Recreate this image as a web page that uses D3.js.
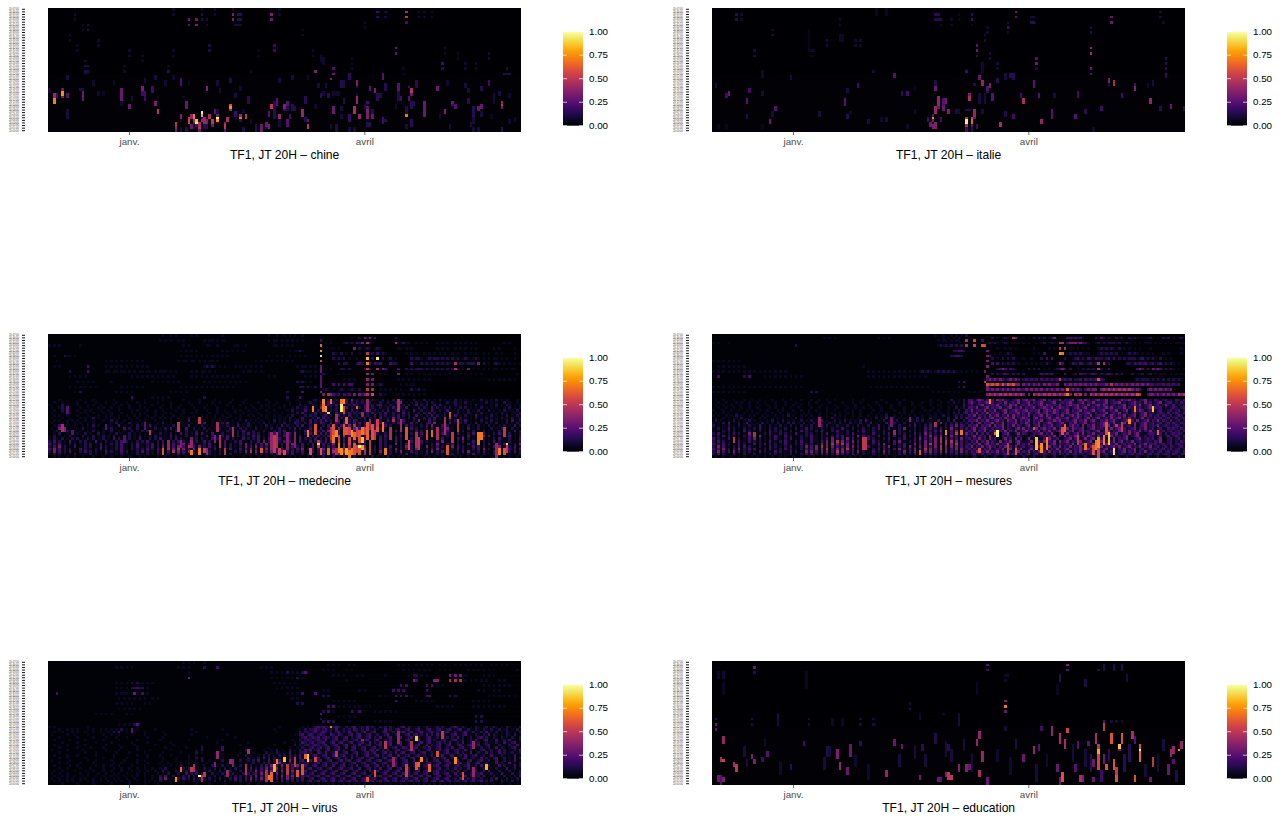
<!DOCTYPE html>
<html><head><meta charset="utf-8">
<script src="https://cdn.jsdelivr.net/npm/d3@7"></script>
<style>html,body{margin:0;padding:0;background:#fff}svg{display:block;font-family:"Liberation Sans",Arial,sans-serif}</style>
</head><body><svg id="c" width="1286" height="818"></svg>
<script>
// Values.
// Streak = [day, fromRow, toRow, percent]: individually read marks. Block = [fromDay, toDay, fromRow, toRow, percent].
// Row strings: one intensity level per day, grouped by ten days, from the first row down. They approximate the
// local density and brightness of the dense panels; they are not an exact cell-by-cell reading of the source.
const topics = ["chine","italie","medecine","mesures","virus","education"];
const channel = "TF1, JT 20H";
const dayCount = 183, rowCount = 48;
const monthTickDays = [31,122], monthTickLabels = ["janv.","avril"];
const legendTicks = [0,0.25,0.5,0.75,1];
const levelValues = [0.015,0.06,0.13,0.21,0.32,0.45,0.58,0.7,0.82,0.95];
const rowLabels = d3.range(rowCount).map(i=>"20:"+String(rowCount-1-i).padStart(2,"0")+":00");

const chineBlocks = [[0,182,26,47,1]];
const chineStreaks = [[10,2,2,8],[10,4,4,8],[48,0,0,8],[48,2,2,8],[59,0,0,8],[59,2,2,12],[59,4,4,12],[54,4,4,30],[54,6,6,25],[57,4,4,30],[57,6,6,35],[61,4,4,10],[61,6,6,8],[64,0,0,8],[64,2,2,8],[71,0,0,10],[71,2,2,35],[71,4,4,35],[73,2,2,14],[74,2,2,14],[73,4,4,14],[74,4,4,14],[72,6,6,10],[73,6,6,10],[74,6,6,10],[86,2,2,35],[86,4,4,30],[89,0,0,8],[89,2,2,8],[127,1,1,20],[127,3,3,15],[130,1,1,10],[130,3,3,10],[138,1,1,45],[138,3,3,50],[138,5,5,20],[143,1,1,8],[143,3,3,8],[145,1,1,8],[145,3,3,8],[148,1,1,8],[148,3,3,8],[122,5,5,8],[122,7,7,8],[98,8,8,6],[98,10,10,6],[13,6,6,8],[13,8,8,8],[15,6,6,12],[15,8,8,12],[8,10,10,8],[8,12,12,8],[19,12,12,8],[19,14,14,8],[11,14,14,6],[11,16,16,6],[62,14,14,12],[62,16,16,12],[87,14,14,18],[87,16,16,18],[81,16,16,6],[81,18,18,6],[31,16,16,8],[31,18,18,8],[36,18,18,8],[36,20,20,8],[48,16,16,8],[48,18,18,8],[14,20,20,8],[14,22,22,12],[15,22,22,12],[14,24,24,12],[15,24,24,12],[14,25,25,8],[29,22,22,8],[29,24,24,8],[46,22,22,8],[46,24,24,14],[78,24,24,8],[103,24,24,35],[102,16,16,8],[102,18,18,8],[105,18,20,8],[106,19,21,8],[110,23,23,25],[110,25,25,30],[109,27,27,35],[117,19,19,6],[117,21,21,6],[117,23,23,6],[134,15,15,30],[134,17,17,25],[153,15,15,8],[153,17,17,8],[158,17,17,6],[158,19,19,6],[152,21,21,20],[152,23,23,14],[170,17,17,10],[170,19,19,10],[161,21,21,8],[161,23,23,8],[165,21,21,8],[165,23,23,8],[177,23,23,12],[176,25,25,12],[177,25,25,12],[178,25,25,12],[129,25,27,25],[137,23,23,6],[137,25,25,6],
[7,26,27,10],[17,28,29,8],[25,28,29,6],[0,31,32,10],[2,33,34,40],[2,35,36,72],[3,33,34,20],[5,31,31,30],[5,32,33,75],[5,34,34,30],[7,33,34,25],[12,31,31,12],[13,31,31,12],[13,32,35,30],[19,32,33,8],[21,32,33,6],[28,31,35,30],[28,36,37,8],[32,34,35,10],[31,37,38,30],[37,27,28,10],[36,30,31,35],[36,32,33,20],[37,32,33,20],[37,34,35,20],[40,30,32,20],[41,26,27,10],[41,36,37,35],[42,34,34,8],[42,39,40,50],[45,28,29,8],[48,26,27,8],[51,27,29,22],[54,28,29,6],[52,34,34,8],[53,36,38,30],[61,30,31,35],[65,28,29,10],[66,31,32,10],[70,27,28,12],[74,30,31,8],[72,33,34,10],[77,34,36,14],[89,27,28,10],[94,26,27,10],[100,26,27,8],[7,39,42,10],[104,29,30,10],[107,29,30,10],[106,32,33,10],[113,28,30,12],[114,28,30,12],[116,25,27,15],[119,28,29,35],[119,30,30,12],[124,30,31,25],[126,31,32,35],[128,33,34,12],[130,29,31,14],[135,29,31,25],[135,32,35,12],[136,34,35,20],[139,30,30,20],[139,34,35,25],[140,31,31,45],[140,32,32,50],[140,33,33,30],[142,28,30,14],[150,30,31,30],[154,28,29,8],[161,29,30,10],[162,31,32,10],[167,30,31,14],[170,28,29,20],[172,33,36,10],[174,32,33,10],[178,33,34,8],[105,33,34,14],[108,33,34,14],[110,32,33,8],[111,32,33,8],[112,32,33,8],[114,35,36,12],[119,34,36,40],[119,33,33,10],[123,36,36,20],[123,38,38,25],[122,37,38,12],[127,33,35,14],[145,36,41,30],[140,36,38,14],[141,36,37,14],[138,38,40,12],[138,41,41,70],[134,37,38,8],[118,38,40,45],[110,38,40,30],[113,38,39,10],[113,41,42,10],[116,41,43,18],[120,41,42,40],[125,39,40,14],[125,41,42,30],[123,39,42,35],[129,42,44,20],[130,43,43,14],[140,43,45,14],[138,45,46,10],[153,39,40,35],[156,36,36,30],[156,37,37,20],[157,37,38,25],[162,35,36,14],[164,38,41,14],[164,42,44,10],[166,38,39,30],[167,37,38,30],[167,40,41,10],[175,36,36,40],[175,37,37,50],[175,38,38,30],[171,41,42,6],[178,43,44,8],[180,42,43,8],[175,46,47,14],[151,41,42,8],[155,45,46,10],[163,44,45,10],[166,46,47,10],[164,46,47,10],[109,45,46,10],[111,45,47,12],[116,46,47,10],[118,46,47,10],[123,44,45,14],[124,44,45,14],
[49,44,44,50],[49,45,45,45],[49,46,46,40],[49,47,47,30],[51,41,42,35],[51,43,43,10],[51,46,47,10],[53,46,47,14],[54,42,42,50],[54,43,44,55],[55,41,42,40],[55,45,46,30],[56,41,42,70],[56,43,43,45],[56,44,44,30],[56,46,46,14],[57,43,43,85],[57,44,44,95],[57,45,45,20],[58,44,45,45],[58,46,46,50],[58,47,47,30],[59,40,40,95],[59,41,41,80],[59,42,42,20],[59,43,43,40],[60,42,44,40],[60,45,46,14],[61,43,44,35],[61,45,46,14],[62,41,42,45],[63,43,44,50],[63,45,45,30],[64,39,40,25],[65,39,40,10],[65,41,41,30],[65,42,42,97],[65,43,43,75],[65,44,44,10],[68,44,44,40],[68,45,46,50],[68,47,47,25],[69,42,43,45],[70,37,37,60],[70,38,38,75],[70,39,39,40],[72,40,41,20],[74,41,41,40],[74,42,42,70],[74,43,43,15],[75,39,40,8],[76,41,42,50],[78,43,44,8],[75,46,47,12],[80,45,47,14],[82,45,47,30],[84,44,45,30],[84,46,46,14],[85,45,46,35],[85,40,41,25],[86,37,38,50],[87,36,42,14],[88,35,37,25],[89,41,42,40],[89,43,45,10],[91,37,38,35],[91,39,39,20],[92,36,37,25],[92,38,39,14],[92,43,45,25],[93,41,42,20],[94,37,39,14],[95,38,39,14],[98,39,41,40],[99,34,36,14],[99,42,43,14],[100,43,43,25],[100,45,46,50],[103,37,38,8]];

const italieBlocks = [[0,182,26,47,1]];
const italieStreaks = [[9,2,2,14],[9,4,4,14],[11,2,2,8],[11,4,4,8],[63,0,2,6],[67,0,2,6],[49,4,4,8],[49,6,6,8],[86,2,2,14],[87,2,2,14],[86,4,4,14],[87,4,4,14],[88,4,4,14],[88,6,6,8],[92,4,4,8],[92,6,6,8],[95,2,2,6],[95,4,4,6],[100,2,2,14],[100,4,4,20],[100,6,6,6],[117,1,1,30],[117,3,3,25],[123,3,3,10],[124,3,3,10],[123,5,5,14],[124,5,5,14],[154,3,3,30],[154,5,5,30],[173,1,1,10],[173,3,3,10],[174,5,5,8],[114,5,5,8],[114,7,7,20],[114,9,9,8],[106,7,7,8],[106,9,9,8],[146,7,7,10],[146,9,9,12],[23,8,8,8],[23,10,10,10],[37,8,16,5],[44,12,12,10],[44,14,14,10],[49,10,12,7],[50,10,12,7],[55,12,12,8],[55,14,14,8],[57,12,12,8],[57,14,14,8],[105,10,10,10],[105,12,12,10],[102,14,14,25],[102,16,16,30],[102,18,18,14],[16,16,16,10],[16,18,18,10],[38,16,16,8],[39,16,16,8],[38,18,18,6],[107,17,17,10],[107,19,19,10],[125,19,19,25],[125,21,21,30],[125,23,23,10],[146,15,15,40],[146,17,17,45],[146,23,23,30],[146,25,25,25],[175,19,19,14],[175,21,21,14],[175,23,23,14],[175,25,25,20],[175,26,26,14],[98,24,24,20],[104,21,24,8],[110,21,21,10],[110,23,23,8],[62,24,24,10],[70,25,26,25],[103,26,27,30],[104,28,29,40],[101,29,29,14],[107,29,30,35],[110,27,28,14],[116,26,27,12],[30,26,27,10],[1,29,30,10],[19,24,26,8],[124,28,30,25],[153,27,28,35],[153,29,29,12],[155,28,29,45],[163,29,29,20],[163,30,31,35],[170,28,29,10],[168,29,30,8],[86,28,29,12],[86,30,31,30],[106,30,31,25],[106,32,32,14],[14,31,32,20],[6,32,33,30],[5,33,34,20],[19,32,33,10],[73,32,33,15],[75,32,33,20],[56,29,30,20],[52,31,32,10],[13,35,36,25],[24,38,39,25],[51,35,37,25],[87,34,37,40],[87,38,38,30],[86,38,40,40],[89,35,37,25],[90,35,36,30],[89,38,39,30],[91,39,40,35],[85,42,42,75],[85,41,41,25],[85,43,43,30],[84,44,45,30],[86,44,46,35],[85,45,46,35],[83,42,43,20],[88,42,43,20],[99,33,33,35],[99,34,35,45],[101,39,41,40],[101,42,42,30],[98,42,42,45],[98,43,44,96],[98,45,45,45],[100,42,42,50],[100,43,44,65],[100,45,45,25],[102,45,46,20],[98,46,47,20],[100,46,47,14],[95,39,40,10],[94,39,40,10],[98,39,39,14],[99,39,39,14],[108,33,35,25],[103,33,36,10],[105,33,36,10],[119,33,34,20],[120,35,36,45],[126,33,34,25],[132,33,34,10],[141,32,34,20],[158,33,34,20],[169,35,36,40],[177,37,38,30],[173,38,39,14],[182,38,39,14],[150,38,39,20],[144,39,40,14],[131,39,42,25],[140,41,42,25],[127,43,44,40],[116,41,42,20],[113,40,41,12],[104,39,40,10],[78,39,40,8],[52,41,42,14],[53,40,40,8],[13,41,42,12],[41,40,41,10],[23,40,41,10],[22,43,44,30],[60,43,44,10],[67,42,43,10],[65,42,43,8],[111,44,45,45],[75,45,46,8],[2,45,46,6],[5,45,46,6],[19,45,46,6],[147,46,47,8],[78,30,31,6],[113,25,27,10],[115,25,26,14],[116,25,26,14]];

const medecineRows = [
"0000000000 0000000000 0000000000 0000000000 0000100101 0000010100 0000000100 0000000000 0000010010 0101010010",
"0000000000 0000000000 0000000000 0000000000 0000000000 0000000000 0000000000 0000000000 0000000000 0000000000 0000000000 0000000100 2042403000 0000200000",
"0000000000 0000000000 0000000000 0000000000 0001010100 1010000000 1011010110 0000000000 0000010110 1010101010 0000020000",
"0000000000 0000000000 0000000000 0000000000 0000000000 0000000000 0000000000 0000000000 0000000000 0000000000 0000000101 0000121203 2403210000 0000511211 0010101000 1010100101 0101010000 0000001010 000",
"1010100000 0010000000 0000000000 0000000000 0000000000 0010100000 0110010000 0011001000 0000000110 1010100000 0000060000",
"0000000000 0000000000 0000000000 0000000000 0000000000 0000000000 0000000000 0000000000 0000000000 0000000000 0000000000 1010000040 2012101210 0000011010 1000000000 1010100101 0101010000 0010100000 100",
"0000000000 0000000000 0000000000 0000000000 0000000000 0101010100 0000000101 0101010000 0000000000 0001011210 0000080000",
"0000000000 0000000000 0000000000 0000000000 0000000000 0000000000 0000000000 0000000000 0000000000 0000000000 0000000000 2102010200 1012120302 1000000010 1010010101 0101001010 0101010010 1001010000 100",
"0010002110 1000000000 0000000000 0000000000 0000000000 0101010101 0101010101 0000000000 0000010010 1001010101 0000090000",
"0000000000 0000000000 0000000000 0000000000 0000000000 0000000000 0000000000 0000000000 0000000000 0000000000 0000000000 2121201001 0010020902 0120100000 2122101212 2121202120 1210121010 1011010100 100",
"0001000000 0000000000 0010101010 1010101000 0000000000 1011011010 1011010000 0000000000 1010101010 1010100000 0000060000",
"0000000000 0000000000 0000000000 0000000000 0000000000 0000000000 0000000000 0000000000 0000000000 0000000000 0000000000 0020220002 3201303230 0032200000 3010212120 2121211202 2122204020 1012101010 101",
"0010100000 0000030000 0010101010 1010101010 0000000000 0000000000 1212101010 0010101010 1010000000 0000001011 0101000000",
"0000000000 0000000000 0000000000 0000000000 0000000000 0000000000 0000000000 0000000000 0000000000 0000000000 0000000101 0002202000 0020200504 3000030021 2122212121 2120212120 1040101010 1011010101 100",
"0000000020 0000030000 0011011011 0101011011 0101110101 0000010101 1010100000 0000010110 1010000000 0000000121 1101000000",
"0000000000 0000000000 0000000000 0000000000 0000000000 0000000000 0000000000 0000000000 0000000000 0000000000 0000012100 0010101000 0000040010 1000040010 1001010101 0101010101 0101010100 0000000000 010",
"0000000010 1010100000 0000000000 0010101010 1010101010 0000010101 0101010101 0101000000 0000010100 0000000001 0101000000",
"0000000000 0000000000 0000000000 0000000000 0000000000 0000000000 0000000000 0000000000 0000000000 0000000000 0000000000 0000101010 0000040000 0000010101 0101010100 0000000000 0000000000 1010101010 100",
"0000000000 0101010100 0000100000 0000000000 1010101010 1000000000 1010101010 1010101000 0000000000 0000002121 0100000000",
"0000000000 0000000000 0000000000 0000000000 0000000000 0000000000 0000000000 0000000000 0000000000 0000000000 0000000000 3030303300 0000040121 0000001010 1100000000",
"0000000010 1010101010 0000000010 1010101000 0000000000 0101010101 0101010101 0100000000 0000000000 0000000221 2102000000",
"0000000000 0000000000 0000000000 0000000000 0000000000 0000000000 0000000000 0000000000 0000000000 0000000000 0000001210 1012101210 2000050010 1010101000 2012010000",
"0000000000 1020000000 0000001010 1010000000 0000000101 0101000000 0000000000 0000000000 0000000000 0020000030",
"0000000000 0000000000 0000000000 0000000000 0000000000 0000000000 0000000000 0000000000 0000000000 0000000000 0000004054 3231323040 4345260020 1000010101 0101010000",
"0000000000 0000000000 0000000000 0030000000 1010101000 0000000000 2000000000 0000000000 0000000000 0020000300 0000000000",
"0000100000 0010000100 0000010000 0010000100 0000100000 0010000010 0000100000 0100001000 0000100000 0010001000 0012010020 1213231412 1211021102 0102012101 0201020101 0201010201 0100100201 0102010100 010",
"0010010000 0100100010 0010001000 1000100100 0010000100 0000100010 0001001000 1000010000 0100010010 0001000100 1201020134 2112131302 1201201021 0201204010 1020102021 0100201201 0201000102 0101002010 010",
"1000020100 0100010100 1000010010 0100010000 1000100100 0100010000 0100100001 0000100010 0010100100 0101000201 0021034232 1312012132 1120120230 1021030202 0130202012 0301010201 0101020100 0102010210 101",
"0100120010 0010010001 0100100100 0100010100 0001000100 1000001000 1000010000 0100001001 0010010001 0100102012 1031043312 0212031201 2031021020 1203012030 0102021030 2012020102 0201010201 0101001020 101",
"0010020100 0100101000 1001000100 0010100010 0100100001 0010000100 0100010010 0010100100 1000100100 0010201013 0120213102 1201210312 0120302102 0301201201 0301201031 0201301020 1020102010 2010102011 020",
"0100010010 0010100100 0100100010 0010010100 0100010100 0010010100 0010010001 0010010010 0100010010 1000102031 1103021231 0312013021 2012030120 3012010302 0102021302 0102031020 1021010201 0101020101 102",
"0010100100 0100010001 0010100100 1001010010 0100100010 0100001001 0100100100 1000100101 0010100101 0010200102 0212012302 0230213012 0302103021 2012030202 0130102030 2012020301 0201030101 0201010201 021",
"0100010010 0010100201 0010010100 0100100100 1001010100 1000200010 0100101001 0010100010 0100100101 0102010130 1021303120 1302031210 2130212030 1204030102 0301020203 0102050102 0101020102 0101020102 012",
"0010100101 0100100100 0100201001 0010010100 0100100100 0100300100 1001001010 0100102010 1010010201 0102012021 0302130312 0230212032 0120302020 1305020301 0204010302 0103020201 0301010201 0201010203 012",
"0100010100 1010010100 1000102010 0200101001 0010200100 3001010010 3001010203 0102010201 0102010101 0201032102 1302032103 0320302130 3020102030 2102030210 3020102304 0102030102 0201030102 0102010201 021",
"0010310100 1001010201 0020100301 0010201003 0100101020 2010300102 0101020102 0103010210 1010201010 3020102030 1203012030 1203024050 2030203010 3020102030 2010203040 1030201020 1020102010 2010102010 302",
"0100420010 0102010100 0100201003 0200200100 0201020301 0103002010 2010102010 2010202010 2010102012 0102030201 1302030120 3040203041 3020102020 1030102010 3020102030 1020401020 1030102010 0201020102 010",
"0012010200 1010010201 0100200101 0020102020 1001010102 0102010201 0201030102 0102030102 0102010202 0301020103 1203213041 2030302030 2103020301 1020301020 1030201040 1020301010 2010201020 1010202010 302",
"0010200102 0100201002 0100102010 0201010102 0102010201 0302010303 0103010201 0102020302 0201020302 0203050102 1302031303 2030203040 3021030201 2030102030 2010301020 1030201030 1020301030 1020301020 102",
"1020101020 1002010201 0201020102 0201020102 0201010302 0102010201 0302010203 0102020103 0301020301 0302010201 2031302031 3030503040 3020301020 3010203020 1030201030 2010203010 2030102040 3010102030 102",
"1021020102 0201020201 0201030201 0201030102 0203010203 0201040202 0103020103 0201030202 0302030203 0102030302 1203020301 3040302041 3030102030 2010302010 2030102010 2030102030 4020102020 1020301020 103",
"2030201030 1020201030 1020102030 2010202030 1020301020 3021030201 3020102030 1020301021 0304020302 0303020301 0302031304 2040304030 2030201030 2010302010 3020302010 2040103020 3010302020 1030201020 102",
"3020301020 2010202010 3010202030 1020301020 3020304030 2040302010 2030102030 2010304020 3030402030 2030401030 2030203020 4030405040 3020301030 2010402030 1030201020 4010203020 1030201020 3010203010 204",
"2030402010 3010202010 3020102030 1020301020 3020404030 4030503040 2030201030 2010204030 4030303040 2040302030 1030402030 3040405030 3040202030 2030102040 2030104020 3020104030 2010303020 1030401020 302",
"3040302020 1030201020 3020102030 1020202030 2030405040 5040304030 2010302020 3010303040 3040403030 3040203040 2030304050 4050405040 3020302030 1020402030 2040102030 4010302030 2010203040 2010304030 203",
"2040302030 1020302020 1030201030 2010203020 1030403050 4030402040 3020102030 1020204050 4030304020 4030302030 1030203040 5040504030 4030102040 3020304010 3020103040 2030401020 3040102030 1020405020 302",
"1020201010 2010102010 1020101020 1010201020 1020302010 3020102010 1020102010 2010102020 3020102030 1020301020 2010203040 3040302030 2010201020 1020102030 1020102010 2010102020 1020301020 1020102010 102",
"0010100100 1001000100 0100100010 0100010100 0010010100 1001000100 0100100010 0100010010 0100100100 1001010100 1020102010 2010201020 0101020101 0201010100 1010010101 0010100101 0010010100 0101001010 010"
];
const medecineStreaks = [[157,11,11,45],[157,13,13,45],[123,3,3,45],[123,7,7,50],[123,9,9,85],[123,11,11,70],[123,13,13,50],[123,15,15,40],[123,17,17,40],[123,19,19,35],[123,21,21,50],[123,23,23,45],[105,2,2,20],[105,4,4,65],[105,6,6,75],[105,8,8,92],[105,10,10,55],[105,12,14,30],[105,16,20,25],[105,22,22,35],
[106,25,26,75],[106,27,29,70],[107,28,29,80],[108,30,30,90],[109,25,26,65],[111,31,33,45],[113,27,29,95],[113,25,26,70],[114,25,26,75],[114,28,30,55],[115,32,34,65],[115,36,38,60],[116,36,38,55],[119,28,28,65],[123,25,29,40],[123,34,36,62],[121,30,31,40],[121,40,41,85],[121,43,44,80],[129,34,37,70],[110,35,38,60],[110,39,41,70],[111,37,39,75],[112,42,45,70],[112,39,41,55],[113,44,46,75],[114,35,38,60],[115,44,46,80],[116,40,42,55],[116,45,47,70],[117,37,39,75],[117,44,46,70],[118,38,40,65],[118,42,46,60],[119,36,39,55],[119,43,45,55],[120,37,41,60],[120,44,46,60],[121,36,38,70],[122,36,38,55],[122,44,46,45],[123,37,40,65],[124,33,36,40],[124,41,46,50],[125,35,40,60],[126,37,40,50],[127,33,35,55],[127,36,37,60],[120,43,43,96],[100,37,39,70],[103,35,38,60],[104,41,43,50],[104,42,42,88],[101,44,46,60],[102,28,29,72],[105,44,46,60],[108,44,46,65],[109,36,40,45],[111,44,46,45],
[44,44,46,60],[46,41,43,40],[51,41,43,35],[55,41,43,40],[55,45,46,70],[58,44,46,70],[60,44,45,50],[61,44,46,40],[64,39,41,35],[66,39,43,45],[68,44,46,50],[58,32,34,50],[50,34,37,50],[65,34,37,45],[71,36,39,45],[82,44,45,60],[86,38,44,40],[87,39,45,50],[88,38,43,45],[89,44,46,50],[91,45,46,60],[92,38,44,35],[95,38,43,35],[5,35,37,45],[6,36,37,35],[9,37,38,25],[22,35,36,25],[37,34,36,25],[39,37,38,50],[29,39,41,25],[7,28,30,25],
[130,44,46,70],[132,36,40,45],[135,25,29,45],[136,33,37,42],[138,36,40,60],[139,41,44,60],[142,38,43,45],[143,40,44,50],[146,37,40,55],[148,37,39,65],[150,36,40,45],[153,32,38,45],[154,43,46,60],[155,30,31,60],[156,38,41,50],[158,33,37,50],[166,38,42,70],[167,38,40,70],[173,42,47,40],[174,44,46,70],[176,36,39,50],[176,44,46,60],[177,42,42,90],[177,43,45,50]];

const mesuresRows = [
"0000000000 0000000000 0000000000 0000000000 0000000000 0000000000 0000000000 0000000000 0000001001 0010101020",
"0000000000 0000000000 0000000000 0000000000 0001010100 0000000000 0000101010 0000000000 0000000001 0101010010 0000000020 1012101410 1010202120 1240000332 3231000021 3212102120 0212101112 1010212010 121",
"0000000000 0000000000 0000000000 0000000000 0000000000 0000000000 0000000000 0000000000 0000000101 1010110050 0000300000",
"1010001000 0000000000 0000000000 0000000000 0000000000 0000000000 0000000000 0000000000 0000000000 0000000000 0000001212 1012101110 1010010120 1211550344 4343210012 1212221201 2101010111 0101010101 111",
"0000000000 0000000000 0000000000 0020000000 0000000000 0000000000 0000000000 0000000000 0000000121 2121212050 0000600000",
"0000000000 0000000000 0000000000 0000000000 0000000000 0000000000 0000000000 0000000000 0000000000 0000000000 0000000000 1001010100 0000100000 1010005011 0101010001 2121210201 0101010001 0000000000 010",
"0000000000 0000000000 0000000000 0000000000 0000000000 0000000000 0000000000 0000000000 0000000000 0002233200 0000000000",
"0000000000 0000000000 0000000000 0000000000 0000000000 0000000000 0000000000 0000000000 0000000000 0000000000 0000000001 0101210000 0000101030 0000070121 2121110001 2121212010 1212101010 1000101000 010",
"0000000000 0000000000 0000000000 0000000000 0000000000 0000000000 0000000000 0000000000 0000000000 0022332000 0000000300",
"0000000000 0000000000 0000000000 0000000000 0000000000 0000000000 0000000000 0000000000 0000000000 0000000000 0000000020 1020202100 1001000203 0300002001 2312132132 2123130212 1222123121 2102010100 000",
"1010101010 1000000000 0000000000 0000000000 0000000000 0000000000 0000000000 0000000000 0000000000 0000000000 0000003000",
"0000000000 0000000000 0000000000 0000000000 0000000000 0000000000 0000000000 0000000000 0000000000 0000000000 0000000030 3021212010 0101010102 1001030013 2132123123 0512000000 2213232312 3123121210 100",
"0010101010 1010000000 0000000000 0000000000 0000000000 0000000010 0000000000 0000000000 0000000000 0000000000 0000003000",
"0000000000 0000000000 0000000000 0000000000 0000000000 0000000000 0000000000 0000000000 0000000000 0000000000 0000000000 2343032100 0020202010 1012343020 0102121212 2013000000 0000343030 4343121210 101",
"1010101010 1010101010 1010101010 0000000000 0000000000 0000000000 1010101010 1010101010 1212101212 1212101010 1010000000",
"0000000000 0000000000 0000000000 0000000000 0000000000 0000000000 0000000000 0000000000 0000000000 0000000000 0000000020 2123212120 2000001323 2300003001 2032212321 2123212120 0020112012 0101110101 011",
"0030000000 0020300000 1010101010 1010100000 0000000000 0000000000 1010101010 1010101010 1010000000 0000000000 0000003000",
"0000000000 0000000000 0000000000 0000000000 0000000000 0000000000 0000000000 0000000000 0000000000 0000000000 0000003434 3432343430 2323230323 2323023230 2230323232 3200000000 0001212221 2121202021 210",
"0000000000 0000000000 0000000000 0000000000 0000000000 0000000000 0000000000 0000000000 0000000000 0000020300 0000000000",
"0000000000 0000000000 0000000000 0000000000 0000000000 0000000000 0000000000 0000000000 0000000000 0000000000 0000006565 6464656440 4342434243 4334004343 4343434343 3343534343 4343434343 3232323232 300",
"1010101010 1010101010 1010101010 1010100000 0000000000 0000000000 0101010101 0101010101 0101000000 0000020300 0000000000",
"0000000000 0000000000 0000000000 0000000000 0000000000 0000000000 0000000000 0000000000 0000000000 0000000000 0000004343 4343434343 3434343434 3434343034 3430343440 4545454545 4543430034 3434343400 000",
"1010101010 1010000000 0000000000 0000000020 2000000000 0000000000 0000000000 0000000000 0000010101 0101010001 0101000000",
"0000000000 0000000000 0000000000 0000000000 0000000000 0000000000 0000000000 0000000000 0000000000 0000000000 0000004545 4545454545 4040545454 5454545040 5450405454 5454545454 5454650034 4343434343 545",
"0000000000 0000000000 0000000000 0000000000 0000000000 0000000000 0000000000 0000000000 0000000000 0000000000 0000000000",
"0100100010 0010010010 0001000100 1000100010 0100100100 0000100010 0000010000 0100100000 0000100100 0020010203 3134313231 4342212341 3423412341 3132413234 1342431234 2341231243 3423123412 1321231213 213",
"0010010001 0100100100 1000100010 0010000100 1000010000 1000100100 0001000100 0010000100 0100100010 0102010203 4213234231 2314123241 2341323412 2341232342 1234132412 2341233412 1234231423 1234123312 132",
"0100100100 1000100010 0100100010 0100100100 0010000100 0100010000 1000100001 0010000100 1000100100 0010100302 3123412332 4123143412 3243123414 3232412343 3413241234 2431231234 1234241234 1231242131 212",
"0010010010 0100100100 0010100100 1001000010 0100100010 0010010010 0100010001 0000100010 0100010010 0100201203 3241234132 3412341324 1323412343 2413432312 3423412313 2342412324 1324231234 1323121232 123",
"1000100100 1001010010 0100010100 0100100100 1000100100 0100100100 0010010000 1000100100 0010100100 0101020132 4123241324 1234123432 3413234134 3243123413 2341323412 3412324123 4123243123 4123112312 312",
"0100101001 0010010100 1001001001 0010010100 0100101001 0010100100 0100100100 0010100100 1001001010 0102020231 3241324132 3124132341 3242134234 1343132412 3412342131 2341232412 3124123412 3123213123 213",
"1010010102 0100101001 0100100102 0100101010 0100100201 0100100100 1001010200 1001001010 0100101002 0101202013 2413231423 4132414231 3241323414 3213241234 2431324123 3412431324 1234123413 1231321312 321",
"0100101001 0201010010 1001010100 1020100101 0100102010 0100101001 0102010300 1010100102 0100201010 0201302032 3124132341 2314324123 4321341323 4124323412 3421341234 1231423413 2413124132 1323123123 123",
"0201001020 1010201010 0102010201 0100201020 1030100201 0201010203 0100102010 0201010102 0201010301 0203010213 2341324123 4231432413 2341323412 3243412323 4132413421 3242342123 4231412341 3241321312 312",
"1010203010 2013010102 0101020102 0201020102 0301020102 0102010201 0301010300 2010201020 1010201040 2020302021 3124132341 3241323413 2431324123 4312342132 4123412312 3423241234 1324123412 3123123132 132",
"2010102010 2010201030 1020102010 2010201020 1030201020 1020102010 2010301020 1020102030 1020302010 2030403213 2341323414 2341324132 1341234132 3412324134 2314132412 3424132341 2314123412 3241232123 212",
"1020103020 1020102030 1020201020 1020103020 1020102010 3010201020 1020301030 1020401020 1030302030 2040203031 3412342131 3241321342 4132341342 3241323414 3234123412 3132413423 1234132412 3123113232 132",
"1010202020 1030201020 1030202010 2010302010 2030102030 1020102030 1020102010 3020102020 1030203040 3030402023 2413241324 1324132412 3423134132 4123413234 1234231234 1234132413 1423241324 1232312312 313",
"2030102030 2010402010 2030102020 1030102020 1020301020 1020301020 1030102030 1020201030 2040302030 4030303142 3141303124 0023413241 3201323413 2410323412 3414132412 3201324123 2413414123 3243131232 321",
"1020302020 1020302040 1020301030 2010202030 1020102030 3010204030 2010301020 3010302020 3030403040 3040302031 2413230412 0031324132 0302310231 3241304132 4123243214 1023423213 4123413212 3123123123 213",
"3020103050 2010304020 1020301020 3010201030 1020304020 3040302010 3020102030 1020301030 4030304050 4030304023 1324130423 0024132413 0141030132 4123012341 3212413412 3402141323 4102341232 3124012312 312",
"2030201020 3010302020 1030102030 1020301030 1030404050 4030403020 1030201020 3040102030 3040304050 5050403021 3241324132 0413241342 1324003241 3241423413 2341234132 4123241341 3241231232 1324012312 132",
"3020302010 3020103020 3020201030 1020302020 1040405040 5040302030 1020304010 3020301040 3040504040 5040503023 1324134132 4132413241 3241023413 2341321324 1234132413 2341324123 1324132413 2312312312 321",
"2040301020 3030201020 1030201020 3010204030 4050404030 3040403020 3010203040 1020304030 4040304050 4040403032 4132413423 1324132412 3123124123 4132413241 3241324132 4132342412 3413241324 1231231321 231",
"3030402030 4020303010 2030102030 2010203030 4040503040 4050302030 1020303020 3040203040 3050403050 4030404023 1324132412 3241341324 1324132324 1324123412 3243241313 2341241324 1234123123 2312312312 312",
"2040303040 3020201030 2010302010 3020104040 3040403050 4030304020 1030204030 1020403040 3040403040 4030304031 3241324132 4132412341 3241324132 4132413241 3241323412 3412341234 1324132412 3123123123 213",
"2030201030 1020102010 1020201010 2010203030 2030302040 3020302020 1020103020 1020302030 3020302030 2020302021 2312312312 3123123213 1231231232 1231321312 3123123132 1231231232 1231232123 1231232132 123",
"0100100100 1010010100 1001001010 0100100101 0010101010 0101010100 0100100100 1001010010 1010101010 1010101010 1210121012 1012101210 2101210121 0121012101 2101210121 0121012101 2101210121 0121012101 210"
];
const mesuresStreaks = [[116,1,1,45],[134,5,5,50],[134,7,7,75],[134,11,11,35],[134,17,17,50],[137,21,21,65],[137,23,23,70],[149,11,11,50],[149,13,13,50],[149,17,17,60],[101,2,2,55],[101,4,4,55],[105,4,4,55],[106,8,8,35],[106,10,10,35],[106,12,12,35],[105,18,18,50],[105,14,14,30],[106,16,16,30],[106,20,20,30],[106,6,6,30],
[110,37,39,98],[109,38,38,70],[107,25,26,72],[90,37,38,72],[96,37,38,70],[94,38,38,50],[124,36,36,60],[125,40,44,86],[127,42,45,75],[129,40,44,72],[148,41,44,70],[149,40,43,76],[151,39,42,70],[153,38,42,86],[155,44,46,92],[147,43,46,60],[149,44,47,55],[144,42,44,70],[136,35,37,65],[135,36,38,60],[161,33,34,75],[163,28,29,70],[170,28,29,86],[172,37,38,65],[152,34,38,60],[141,39,42,50],[158,34,37,50],[156,35,35,50],[117,44,46,60],[114,42,46,50],[116,38,43,6],[121,39,44,8],[166,38,41,6],
[86,34,35,45],[103,44,45,60],[80,45,46,60],[8,40,41,50],[16,38,39,45],[41,32,35,40],[69,32,35,30],[76,32,33,35],[70,37,38,40],[58,40,44,50],[59,40,44,50]];

const virusRows = [
"0000000000 0000000000 0000000000 0000000000 0000000000 0010101000 1000000000 0000000000 0000000000 0000000000",
"0000000000 0000000000 0000000000 0000000000 0000000000 0000000000 0000000000 0000000000 0000000000 0000000000 0000000010 1010001010 0000000000 0000010101 0010101010 0101000101 0101010100 0101010100 000",
"0000000000 0000000000 0000001010 1010000000 0000000000 1010100000 2000000000 0000000000 0010101000 0000000000",
"0000000000 0000000000 0000000000 0000000000 0000000000 0000000000 0000000000 0000000000 0000000000 0000000000 0000001010 1000010100 0000000000 0000000101 0101010100 0101010000 0010101010 1010000000 010",
"0000000000 0000000000 0000000000 0000000000 0000000000 0000100000 0000000000 0000000000 0000001010 1020101020 1000000000",
"0000000000 0000000000 0000000000 0000000000 0000000000 0000000000 0000000000 0000000000 0000000000 0000000000 0000000000 1010100001 0100000000 1000000001 0220101000 0000040404 0100000010 1010000000 000",
"0000000000 0000000000 0000000000 0000000000 0000000000 0000300000 0000000000 0000000000 0000001010 1010102010 0000000000",
"0000000000 0000000000 0000000000 0000000000 0000000000 0000000000 0000000000 0000000000 0000000000 0000000000 0000000000 0000010000 0000000000 0000000000 0330000003 3000050505 0101010101 0000101000 000",
"0000000000 0000000000 0000001010 1020201010 1000000000 0000000000 0000000000 0000000000 0000000101 0101010000 0000000000",
"0000000000 0000000000 0000000000 0000000000 0000000000 0000000000 0000000000 0000000000 0000000000 0000000000 0000000000 0000000000 0000000000 0000003030 0000003030 1010000000 0000000010 1010101010 000",
"0000000000 0000000000 0000001010 1022322010 0000000000 0000000000 0000000000 0000000000 0000000010 1010101000 0000000000",
"0000000000 0000000000 0000000000 0000000000 0000000000 0000000000 0000000000 0000000000 0000000000 0000000000 0000001010 0000000000 1010000000 0003030300 0000003000 0000000000 0000001010 0010100000 000",
"0003000000 0000000000 0000001011 1011103010 0000000000 0000000000 0000000000 0000000000 0000000000 0010101030 0000000000",
"0000000000 0000000000 0000000000 0000000000 0000000000 0000000000 0000000000 0000000000 0000000000 0000000000 0000002020 0000000000 0000000010 1000303030 1000003300 0000020200 0000000000 1010101010 100",
"0000000000 0000000000 0000000101 0101010100 1010000000 0000000000 0000000000 0000000000 0000000000 0000101000 0000000000",
"0000000000 0000000000 0000000000 0000000000 0000000000 0000000000 0000000000 0000000000 0000000000 0000000000 0000000000 1010101010 0000000000 0000300000 0010101010 0000000000 0000101010 1000000000 000",
"0000000000 0000000000 0000001010 1010000101 0000000000 0000000000 0000000000 0000000000 0000000000 0000002020 0000000000",
"0000000000 0000000000 0000000000 0000000000 0000000000 0000000000 0000000000 0000000000 0000000000 0000000000 0000000030 3010101010 1010100000 0000000000 0000000000 1010101000 0000101010 1010101000 000",
"0000000000 0000000000 0000000101 0101010000 0000000000 0000000000 0000000000 0000000000 0000000000 0000000000 0000000000",
"0000000000 0000000000 0000000000 0000000000 0000000000 0000000000 0000000000 0000000000 0000000000 0000000000 0000002030 1000000300 3000001010 1010100000 0000000000 0000000000 0000000000 0000000000 000",
"0000000000 0000000010 1010100000 1010000000 0000000000 0000000000 0000000000 0000000000 0000000000 0000000000 0000030000",
"0000000000 0000000000 0000000000 0000000000 0000000000 0000000000 0000000000 0000000000 0000000000 0000000000 0000000000 0010101010 0000000000 0000000000 0000000000 0000000000 0000020200 0000000000 000",
"0000000000 0000000000 0000000000 0000000000 0000000000 0000000000 0000000000 0000000000 0000000000 0000000000 0000020000",
"0000000000 0000000000 0000000000 0000000000 0000000000 0000000000 0000000000 0000000000 0000000000 0000000000 0000002030 2000001000 0000001010 1010000000 0000000000 0000000000 0000020200 0000000000 000",
"0000000000 0000000000 0000000101 0102010000 0000000000 0000000000 0000000000 0000000000 0000000000 0000000000 0000000000",
"1010000000 0000010000 0000000000 0000100000 0000000000 0000000000 0000000000 0000000000 0000000001 0000000010 1012323121 2321021230 1213121021 2021012302 1012012101 2021012310 2101021012 0121010210 102",
"0000100101 0100010100 1010101020 1000100000 0100000000 0000010000 0000000100 0000000000 0000000100 0000000102 1223212312 1301212032 1203012101 3020231023 0123102301 2301230123 0121021021 0201201201 021",
"0010010001 0100100100 1001020300 1001000100 0000100000 0000000100 0000000000 0000000000 0000000010 0000000212 2123123212 0231213012 1230123012 3012012302 3012301231 2012301201 2301201203 0102010210 102",
"0100000100 1000010000 0100100100 0010000100 0000010000 0000010000 0000000001 0000000000 0000000000 0000010231 2321232103 2132012302 3012301201 2301230123 0231203120 3012012301 2301021021 3021010210 201",
"0000100000 0100000100 0010001000 1000000010 0000100000 0000000000 0100000000 0010000000 0000000000 0000000123 1232312321 2301230212 3012302130 1230123012 3012012301 2031202130 2012012302 1021020102 102",
"0010000010 0000100000 0100000100 0000100000 0001000000 0000100000 0000000100 0000000000 0000000000 0000100212 3212321301 2301320123 0123012301 2031020123 0123012302 1023012301 2012031023 0103012030 102",
"0000010000 0100000010 0000100000 0010000010 0000000100 0000000000 0000010000 0000000100 0000000000 0100010132 1231223012 3023012301 2301302130 1230123012 3012302301 2302130120 3012012012 0102103012 301",
"0010000100 0000100000 0010000100 0001000000 0100000010 0000000001 0000000000 0000100000 0000000100 0000020212 3123212301 2301230121 3012301230 1230123012 3023013021 2301230123 0123013012 3010201021 030",
"0000100000 0100001000 0100000010 0000100000 0000010000 0001000002 0000000300 0000001000 0000010000 0001001020 1231231230 1230130230 1230123021 3012301320 1230120301 2301203012 3012301201 2013021012 301",
"0100000100 0001000000 0010000100 0000100001 0000000100 0000000102 0000000300 0000002010 0001001020 1002010213 2302310230 1231201320 1230231302 1301230123 1302012301 2312301230 1302010230 1201302010 213",
"0000100000 0000100010 0000001000 0100000100 0000100000 0100000201 0000010100 0000100101 0000201021 0103010223 1210321301 2301230123 0123023012 3021302301 2301230120 3012301230 2103012103 0201302012 012",
"0010000100 0100000010 0000010000 0000100010 0001000100 0000100100 0000100100 0001002010 0102020102 0203021312 0123012301 3012301203 0123012302 1230130123 0123120130 2130123012 0301230120 1301021010 301",
"0000100100 0000100000 0100010000 1000000010 0000100001 0000100202 0000100100 0000100201 0203020201 0203020312 3012301230 1230120301 2301230102 3012302301 2301302013 0123012301 2301201302 1023012010 302",
"0100000010 0000010010 0000100001 0000100100 0000100001 0000100102 0010100200 1000201202 0301030203 0304030231 2301230123 0123023012 3012301230 1231201230 1302013012 3012301230 1023012301 2013012010 301",
"0000100100 0010000100 0000010010 0000100010 0001001000 0100100100 0100201001 0000101012 0102030204 0203040212 3012302301 2301301230 1230123012 3012301230 1203012301 2301230123 0130123012 0103020130 102",
"0010000010 0100000010 0100100100 0010000100 0000100100 0200100100 1002010201 0010201020 1020304030 4030304023 0123012301 3012301203 0123012302 1302301230 1230123012 3012301230 1230120301 2010302010 302",
"0000100100 0010001000 0100010010 0100100100 1001020001 0020201010 2010201020 1020102030 2030403040 3040302031 2301230123 0123012301 3012302130 1230123013 0123012301 2301201302 0130120123 0102010301 201",
"0010010000 1000100100 0100100010 0010010010 0100301002 0302030200 1020102010 2010203020 4030304030 4030403023 0123012301 2301230123 0120312301 2301230123 0123023012 3012012030 1201230120 3010201020 102",
"0100100100 0010010001 0010010100 1000100100 0010102000 2003020302 0102010201 0201020202 3040303040 3030303032 1230123012 3012301230 1230123012 3012301302 1230123012 3012301302 3012012301 0201030102 012",
"0010010100 1001010010 0100101001 0010100100 1002030020 1020302010 2010201020 1020203030 4030403030 4040402032 3012301230 1230123012 3012301230 1230123012 3012302301 2301230120 1302012030 1020102010 203",
"0100100101 0010100100 1010010100 1001000100 1003040000 2030202020 1020102010 2030203040 3040304030 3040302030 1230123012 3012301230 1230123012 3012301230 1230123012 3012301203 0120301201 0203010201 020",
"0010100101 0010010100 1001001010 0100100101 0102010100 1010102010 1010201020 1020202030 2020302020 3020202021 2312312312 3123123123 1231231231 2312312312 3123123123 1231231231 2312312312 0201020102 010",
"0000010000 0100000100 0000100000 0100000100 0010000100 0010000100 0010000010 0000100100 0100100100 1010010010 1010101010 1010101010 1010101010 1010101010 0101010101 0101010101 0101010101 0010010010 010"
];
const virusStreaks = [[33,12,12,30],[54,6,6,30],[65,2,2,20],[99,4,4,25],[103,12,12,25],[105,20,20,25],[34,24,24,25],[141,7,7,35],[149,7,7,35],[150,7,7,35],
[49,45,46,75],[51,41,42,65],[55,41,42,50],[56,40,42,45],[58,44,44,98],[59,44,46,45],[60,43,44,50],[65,35,37,40],[64,39,40,35],[70,38,39,40],[71,38,40,35],[69,42,44,40],[76,40,43,45],[77,34,35,45],[85,44,45,70],[86,43,46,65],[87,40,42,82],[88,38,39,70],[84,42,46,45],[91,37,38,85],[92,40,43,50],[95,37,40,50],[96,42,44,60],[98,40,43,60],[99,36,37,65],[100,36,38,86],[103,37,38,55],[109,25,25,70],[142,29,30,86],[142,39,41,60],[143,39,40,65],[144,37,38,75],[135,27,31,40],[140,31,34,45],[152,27,29,50],[150,35,36,60],[147,40,42,65],[157,37,39,75],[160,43,45,60],[169,40,41,82],[164,31,33,40],[133,37,40,40],[138,40,44,55],[130,31,33,50],[126,42,44,60],[123,45,46,60],[111,35,36,50],[121,30,30,40],[164,41,44,40],[32,26,27,25]];

const educationBlocks = [[0,182,26,47,1]];
const educationStreaks = [[16,2,2,30],[16,4,4,14],[2,4,6,8],[4,4,6,8],[106,1,1,25],[106,3,3,20],[137,1,1,35],[137,3,3,25],[149,3,3,14],[151,1,3,12],[155,1,3,12],[158,1,3,12],[113,5,5,8],[114,5,5,8],[113,7,7,8],[134,5,7,14],[144,7,9,12],[160,5,7,10],[36,4,10,6],[4,8,12,6],[102,8,12,6],[133,9,12,6],[113,15,15,35],[113,17,17,70],[113,19,19,30],[76,16,16,10],[76,18,18,14],[1,22,22,14],[1,24,24,30],[1,26,26,25],[15,22,22,12],[15,24,24,12],[37,22,22,10],[37,24,24,10],[62,22,22,10],[62,24,24,10],[57,22,22,10],[57,24,24,10],[25,20,24,10],[151,23,23,25],[154,23,23,10],[156,23,23,10],[158,23,23,10],[95,20,24,10],[89,20,20,8],[80,20,22,8],[50,22,24,7],[46,22,24,7],
[4,29,31,40],[3,37,38,45],[4,38,38,55],[8,39,40,45],[9,40,42,50],[15,36,37,35],[16,38,39,35],[19,37,38,20],[21,35,36,25],[2,44,46,30],[3,44,47,25],[4,45,46,35],[30,40,41,14],[35,31,32,20],[48,34,37,35],[49,39,41,40],[52,41,43,30],[53,32,36,30],[57,31,32,14],[45,33,36,10],[67,42,44,40],[70,30,32,30],[73,32,33,30],[80,44,45,30],[87,45,46,30],[88,45,46,25],[90,43,44,35],[91,43,45,50],[92,44,45,50],[95,40,42,35],[98,40,42,35],[99,40,41,30],[102,30,32,40],[103,27,29,40],[103,42,44,45],[104,35,38,40],[86,28,31,12],[81,32,34,14],[91,32,34,14],[113,25,26,10],[120,36,38,30],[124,33,35,40],[126,32,34,25],[106,45,47,30],[131,25,28,40],[127,25,26,20],[134,28,31,45],[136,30,33,45],[137,26,27,55],[133,40,42,30],[135,43,46,60],[134,45,47,30],[140,40,42,25],[141,31,33,25],[143,44,46,35],[142,44,46,45],[145,31,32,25],[147,45,46,30],[147,38,40,30],[148,28,31,45],[149,32,34,50],[149,34,35,80],[149,36,41,55],[151,24,26,50],[151,36,39,30],[152,40,41,60],[154,28,31,60],[155,38,41,60],[156,41,43,50],[156,44,46,60],[157,32,33,86],[158,28,31,60],[157,34,34,30],[162,27,29,45],[163,29,31,25],[165,32,33,60],[165,34,34,98],[165,35,38,65],[163,44,46,60],[170,37,40,50],[169,45,46,30],[178,33,35,40],[180,34,34,75],[177,34,36,40],[181,31,33,40],[178,38,39,25],[176,40,43,30],
[12,33,36,10],[13,38,40,10],[20,30,32,8],[26,39,43,8],[43,37,41,10],[44,33,36,12],[55,36,40,8],[60,40,45,8],[72,36,40,10],[78,33,37,10],[82,36,40,10],[90,31,36,10],[92,34,38,10],[97,30,34,10],[100,36,42,10],[110,34,38,8],[115,37,43,8],[117,30,33,12],[125,40,46,10],[129,36,40,8],[139,32,38,10],[144,34,40,10],[146,36,42,14],[150,42,46,20],[153,34,38,14],[159,36,42,14],[161,32,38,14],[167,40,44,10],[172,36,42,10],[174,30,34,10],[179,42,46,12]];

const dataByTopic = {chine:[[],chineBlocks,chineStreaks],italie:[[],italieBlocks,italieStreaks],medecine:[medecineRows,[],medecineStreaks],mesures:[mesuresRows,[],mesuresStreaks],virus:[virusRows,[],virusStreaks],education:[[],educationBlocks,educationStreaks]};

const svg = d3.select("#c");
const layout = {x:[48,712], y:[8,334,661], w:473.3, h:124};
const color = t => d3.interpolateInferno(t);

topics.forEach((topic,i)=>{
  const px = layout.x[i%2], py = layout.y[Math.floor(i/2)];
  const g = svg.append("g");
  const x = d3.scaleBand().domain(d3.range(dayCount)).range([px,px+layout.w]);
  const y = d3.scaleBand().domain(d3.range(rowCount)).range([py,py+layout.h]);
  const grid = new Map();
  const [rows,blocks,streaks] = dataByTopic[topic];
  rows.forEach((s,r)=>{[...s.replace(/ /g,"")].forEach((ch,d)=>{ if(d<dayCount) grid.set(d+"_"+r,{d,r,v:levelValues[+ch]}); });});
  blocks.forEach(([d0,d1,r0,r1,p])=>{for(let d=d0;d<=d1;d++)for(let r=r0;r<=r1;r++)grid.set(d+"_"+r,{d,r,v:p/100});});
  streaks.forEach(([d,r0,r1,p])=>{for(let r=r0;r<=r1;r++)grid.set(d+"_"+r,{d,r,v:p/100});});
  g.append("rect").attr("x",px).attr("y",py).attr("width",layout.w).attr("height",layout.h).attr("fill",color(0)).attr("shape-rendering","crispEdges");
  g.append("g").selectAll("rect").data([...grid.values()]).join("rect")
    .attr("x",c=>x(c.d)).attr("y",c=>y(c.r)).attr("width",x.bandwidth()).attr("height",y.bandwidth())
    .attr("fill",c=>color(c.v)).attr("shape-rendering","crispEdges");
  const ax = g.append("g").attr("transform",`translate(0,${py+layout.h})`)
    .call(d3.axisBottom(x).tickValues(monthTickDays).tickFormat((d,k)=>monthTickLabels[k]).tickSize(3).tickPadding(3));
  ax.select(".domain").remove();
  ax.selectAll("line").attr("stroke","#333").attr("stroke-width",0.7);
  ax.selectAll("text").attr("fill","#4d4d4d").style("font-size","9.8px").style("font-family","Liberation Sans");
  const ay = g.append("g").attr("transform",`translate(${px-23},0)`)
    .call(d3.axisLeft(y).tickFormat((d,k)=>rowLabels[k]).tickSize(3).tickPadding(3));
  ay.select(".domain").remove();
  ay.selectAll("line").attr("stroke","#111").attr("stroke-width",1);
  ay.selectAll("text").attr("fill","#4d4d4d").style("font-size","2.6px").style("font-family","Liberation Sans");
  g.append("text").attr("x",px+layout.w/2).attr("y",py+layout.h+27).attr("text-anchor","middle")
    .style("font-size","12.1px").attr("fill","#000").text(`${channel} \u2013 ${topic}`);
  const lx = px+515, lt = py+23.7, lb = py+117.7;
  const ly = d3.scaleLinear().domain([0,1]).range([lb,lt]);
  const gid = "lg"+i;
  const grad = svg.append("defs").append("linearGradient").attr("id",gid).attr("x1",0).attr("x2",0).attr("y1",1).attr("y2",0);
  d3.range(0,1.001,0.05).forEach(t=>grad.append("stop").attr("offset",t).attr("stop-color",color(t)));
  g.append("rect").attr("x",lx).attr("y",lt).attr("width",20).attr("height",lb-lt).attr("fill",`url(#${gid})`);
  legendTicks.forEach(t=>{
    g.append("line").attr("x1",lx).attr("x2",lx+4).attr("y1",ly(t)).attr("y2",ly(t)).attr("stroke","#fff").attr("stroke-width",0.7);
    g.append("line").attr("x1",lx+16).attr("x2",lx+20).attr("y1",ly(t)).attr("y2",ly(t)).attr("stroke","#fff").attr("stroke-width",0.7);
  });
  const la = g.append("g").attr("transform",`translate(${lx+20},-0.5)`).call(d3.axisRight(ly).tickValues(legendTicks).tickFormat(d3.format(".2f")).tickSize(0).tickPadding(6));
  la.select(".domain").remove();
  la.selectAll("text").attr("fill","#000").style("font-size","9.8px").style("font-family","Liberation Sans");
});
</script></body></html>
